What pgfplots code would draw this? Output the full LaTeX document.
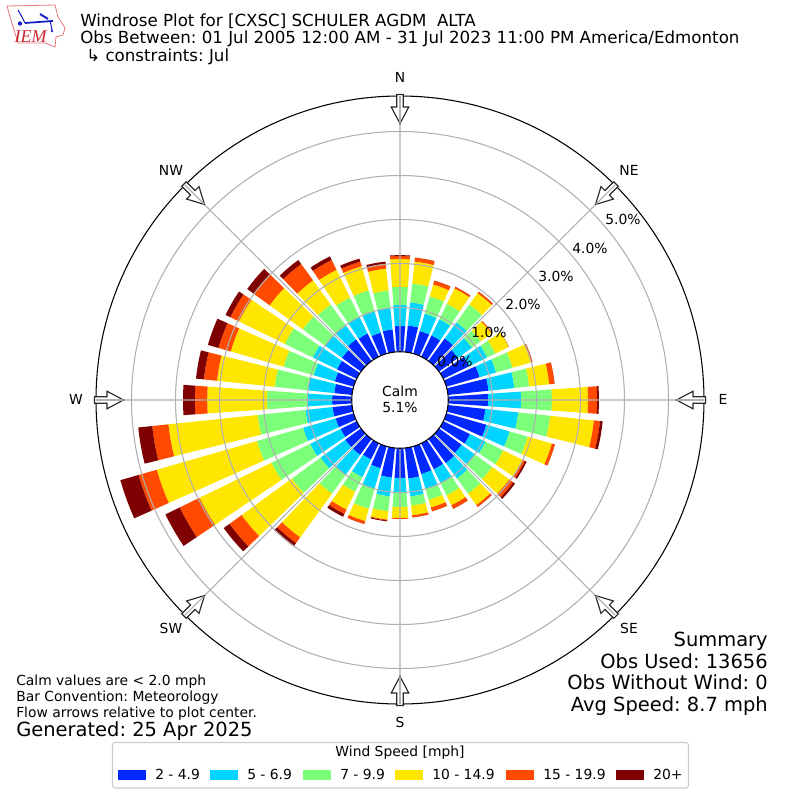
\documentclass[border=0pt]{standalone}
\usepackage{pgfplots}
\usepackage{pgfplotstable}
\usepackage{fontspec}
\setmainfont{DejaVu Sans}
\newfontfamily\logofont{Liberation Serif}
\usepgfplotslibrary{polar}
\pgfplotsset{compat=1.18}
\frenchspacing
\definecolor{bA}{RGB}{0,40,255}
\definecolor{bB}{RGB}{0,212,255}
\definecolor{bC}{RGB}{124,255,121}
\definecolor{bD}{RGB}{255,230,0}
\definecolor{bE}{RGB}{255,74,0}
\definecolor{bF}{RGB}{127,0,0}
\definecolor{gridc}{RGB}{176,176,176}
\definecolor{arrowc}{RGB}{40,40,40}
\definecolor{logor}{RGB}{226,120,120}
\definecolor{logot}{RGB}{205,40,50}
\definecolor{logob}{RGB}{20,30,200}
\definecolor{legframe}{RGB}{204,204,204}
% cumulative outer edge (percent) of each speed band, by direction
\pgfplotstableread{
dir b0 b1 b2 b3 b4 b5 b6
0   0 0.58 1.06 1.47 2.10 2.17 2.19
10  0 0.60 1.13 1.56 2.06 2.15 2.15
20  0 0.53 0.94 1.35 1.63 1.72 1.72
30  0 0.53 0.94 1.33 1.72 1.76 1.76
40  0 0.63 1.08 1.58 1.90 1.94 1.94
50  0 0.53 0.92 1.17 1.47 1.49 1.49
60  0 0.65 1.10 1.31 1.65 1.65 1.65
70  0 0.78 1.17 1.56 2.01 2.03 2.03
80  0 0.92 1.51 1.85 2.31 2.43 2.43
90  0 0.90 1.65 2.35 3.17 3.38 3.42
100 0 0.85 1.60 2.33 3.33 3.47 3.53
110 0 0.94 1.49 1.92 2.49 2.56 2.56
120 0 0.67 1.06 1.51 2.01 2.06 2.10
130 0 0.63 1.01 1.49 1.97 2.08 2.13
140 0 0.67 1.10 1.53 1.85 1.90 1.90
150 0 0.65 0.99 1.31 1.56 1.65 1.65
160 0 0.65 1.01 1.26 1.44 1.53 1.53
170 0 0.69 1.10 1.31 1.53 1.58 1.58
180 0 0.67 0.99 1.33 1.58 1.60 1.60
190 0 0.67 1.10 1.44 1.63 1.65 1.67
200 0 0.51 0.99 1.47 1.76 1.83 1.83
210 0 0.40 0.85 1.22 1.67 1.78 1.85
220 0 0.44 1.01 1.53 2.76 2.92 3.01
230 0 0.44 1.13 1.94 3.35 3.69 3.85
240 0 0.40 1.17 2.15 3.97 4.47 4.83
250 0 0.42 1.19 2.28 4.65 5.08 5.51
260 0 0.44 1.06 2.15 4.19 4.56 4.88
270 0 0.44 1.01 1.92 3.28 3.56 3.83
280 0 0.40 1.01 1.76 3.08 3.38 3.56
290 0 0.44 0.94 1.65 2.90 3.19 3.44
300 0 0.49 1.10 1.81 2.97 3.19 3.31
310 0 0.53 1.01 1.63 2.56 3.01 3.19
320 0 0.60 0.99 1.58 2.26 2.72 2.83
330 0 0.58 1.01 1.49 2.19 2.44 2.53
340 0 0.49 0.99 1.49 2.06 2.17 2.24
350 0 0.51 1.01 1.40 1.90 2.01 2.06
}\rose
\def\off{1.102}
\newcommand{\dirarrow}[1]{%
  \begin{scope}[rotate around={#1:(400,400)}]
  \draw[draw=arrowc,fill=white,line width=0.85pt,line join=miter]
    (396.8,94.5)--(403.2,94.5)--(403.2,107)--(408.8,107)--(400,123.5)--(391.2,107)--(396.8,107)--cycle;
  \draw[gridc,line width=0.8pt] (400,96)--(400,123);
  \end{scope}}
\begin{document}
\begin{tikzpicture}[x=0.75pt,y=-0.75pt]
\useasboundingbox (0,0) rectangle (800,800);
\begin{polaraxis}[
  at={(300pt,-300pt)},anchor=center,
  scale only axis,width=456pt,height=456pt,
  xmin=0,xmax=360,ymin=0,ymax=6.909,
  xtick={0,45,...,315},
  ytick={2.102,3.102,4.102,5.102,6.102},
  xticklabels={},yticklabels={},
  major tick length=0pt,
  grid=major,
  major grid style={draw=gridc,line width=0.8pt},
  axis line style={draw=black,line width=0.8pt},
  y axis line style={draw=none},
  axis on top,
]
\foreach \row in {0,...,35}{%
  \pgfplotstablegetelem{\row}{dir}\of\rose
  \pgfmathsetmacro\tc{90-\pgfplotsretval}
  \pgfmathsetmacro\ta{\tc-4}\pgfmathsetmacro\tb{\tc-2}
  \pgfmathsetmacro\td{\tc+2}\pgfmathsetmacro\te{\tc+4}
  \foreach \cl/\cp/\k in {b1/b0/bA,b2/b1/bB,b3/b2/bC,b4/b3/bD,b5/b4/bE,b6/b5/bF}{%
    \pgfplotstablegetelem{\row}{\cp}\of\rose
    \pgfmathsetmacro\ra{\pgfplotsretval+\off}
    \pgfplotstablegetelem{\row}{\cl}\of\rose
    \pgfmathsetmacro\rb{\pgfplotsretval+\off}
    \edef\tmp{\noexpand\addplot[fill=\k,draw=none,forget plot] coordinates
      {(\ta,\ra)(\tb,\ra)(\tc,\ra)(\td,\ra)(\te,\ra)(\te,\rb)(\td,\rb)(\tc,\rb)(\tb,\rb)(\ta,\rb)};}%
    \tmp
  }%
}
\end{polaraxis}
% centre
\draw[fill=white,draw=black,line width=0.8pt] (400,400) circle[radius=36.2pt];
\node[font=\fontsize{10.4pt}{12pt}\selectfont,anchor=base] at (400,396) {Calm};
\node[font=\fontsize{10.4pt}{12pt}\selectfont,anchor=base] at (400,412) {5.1\%};
% arrows
\foreach \a in {0,45,...,315}{\dirarrow{\a}}
% direction labels
\begin{scope}[every node/.style={font=\fontsize{10.4pt}{12pt}\selectfont}]
\node at (400,77) {N};
\node at (629,170) {NE};
\node at (723,399) {E};
\node at (629,628) {SE};
\node at (400,722) {S};
\node at (171,628) {SW};
\node at (76,399) {W};
\node at (171,170) {NW};
\node at (455,361) {0.0\%};
\node at (489,332) {1.0\%};
\node at (523,304) {2.0\%};
\node at (556,276) {3.0\%};
\node at (590,248) {4.0\%};
\node at (623,219) {5.0\%};
\end{scope}
% titles
\begin{scope}[every node/.style={font=\fontsize{12.5pt}{15pt}\selectfont,anchor=base west,inner sep=0pt}]
\node at (80,26) {Windrose Plot for [CXSC] SCHULER AGDM\ \ ALTA};
\node at (80,43) {Obs Between: 01 Jul 2005 12:00 AM - 31 Jul 2023 11:00 PM America/Edmonton};
\node at (86,61) {↳ constraints: Jul};
\end{scope}
% summary
\begin{scope}[every node/.style={font=\fontsize{14.6pt}{17pt}\selectfont,anchor=base east,inner sep=0pt}]
\node at (768,646) {Summary};
\node at (768,668) {Obs Used: 13656};
\node at (768,689) {Obs Without Wind: 0};
\node at (768,711) {Avg Speed: 8.7 mph};
\end{scope}
% notes
\begin{scope}[every node/.style={font=\fontsize{10.4pt}{12pt}\selectfont,anchor=base west,inner sep=0pt}]
\node at (16,685) {Calm values are < 2.0 mph};
\node at (16,701) {Bar Convention: Meteorology};
\node at (16,717) {Flow arrows relative to plot center.};
\node[font=\fontsize{14.6pt}{17pt}\selectfont] at (16,736) {Generated: 25 Apr 2025};
\end{scope}
% legend
\draw[draw=legframe,fill=white,line width=0.8pt,rounded corners=2pt] (112.5,742.5) rectangle (688.5,788);
\node[font=\fontsize{10.4pt}{12pt}\selectfont] at (400,753) {Wind Speed [mph]};
\foreach \xa/\k/\lab in {118/bA/2 - 4.9,210/bB/5 - 6.9,303/bC/7 - 9.9,395/bD/10 - 14.9,506/bE/15 - 19.9,616/bF/20+}{%
  \fill[\k] (\xa,770) rectangle ++(28,10);
  \node[font=\fontsize{10.4pt}{12pt}\selectfont,anchor=base west,inner sep=0pt] at (\xa+37,779) {\lab};
}
% logo
\draw[logor,line width=0.6pt,fill=white] (7,6)--(55,5)--(58,17)--(65,28)--(63,35)--(56,37)--(55,47)--(45,43)--(18,43)--(15,33)--(10,17)--cycle;
\draw[logob,line width=1.3pt] (25,23)--(53,21);
\draw[logob,line width=0.8pt] (18,10)--(22,17)--(25,23);
\draw[logob,line width=1.4pt] (40,14)--(48,19);
\draw[logob,line width=0.8pt] (50,20)--(52,30);
\fill[logob] (20,23.5) circle[radius=1.6pt];
\fill[logob] (52,31) circle[radius=1pt];
\node[font=\logofont\itshape\fontsize{13.5pt}{15pt}\selectfont,text=logot,anchor=base,inner sep=0pt] at (30.5,42.5) {IEM};
\end{tikzpicture}
\end{document}
